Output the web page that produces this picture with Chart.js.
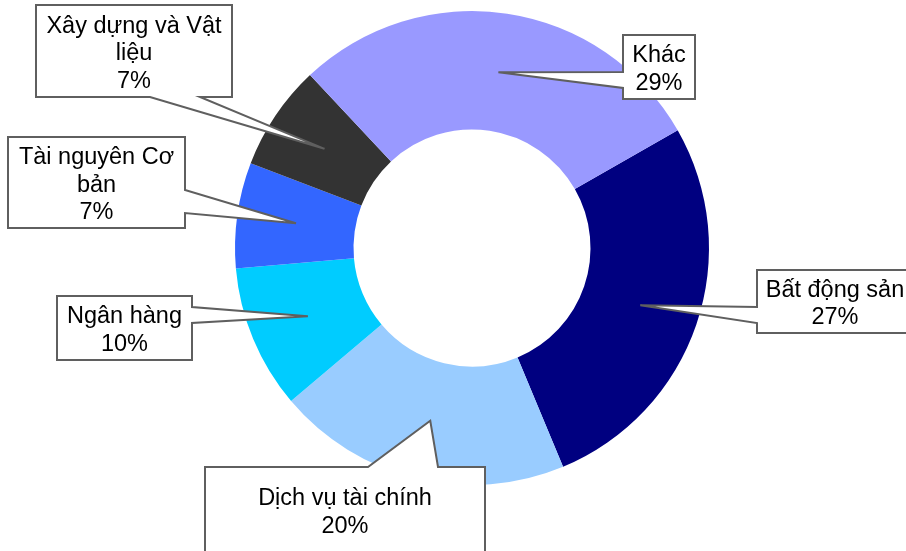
<!DOCTYPE html>
<html>
<head>
<meta charset="utf-8">
<script src="https://cdn.jsdelivr.net/npm/chart.js@4.4.0/dist/chart.umd.min.js"></script>
<style>
    body { margin: 0; background: #fff; }
    #wrap { width: 906px; height: 551px; position: relative; }
</style>
</head>
<body>
<div id="wrap"><canvas id="sectorChart"></canvas></div>
<script>
// ========== Data ==========
const sectorLabels = ['Bất động sản', 'Dịch vụ tài chính', 'Ngân hàng', 'Tài nguyên Cơ bản', 'Xây dựng và Vật liệu', 'Khác'];
const labelLines = [['Bất động sản'], ['Dịch vụ tài chính'], ['Ngân hàng'], ['Tài nguyên Cơ', 'bản'], ['Xây dựng và Vật', 'liệu'], ['Khác']];
const sectorValues = [27.0, 20.1, 9.8, 7.2, 7.2, 28.7];
const sectorColors = ['#000080', '#99CCFF', '#00CCFF', '#3366FF', '#333333', '#9999FF'];

// callout boxes (layout only), pointer tip comes from the arc itself
const calloutBoxes = [
    { x: 757, y: 270, w: 156, h: 63, side: 'left', base: [307, 323] },
    { x: 205, y: 467, w: 280, h: 86, side: 'top', base: [368, 438] },
    { x: 57, y: 296, w: 135, h: 64, side: 'right', base: [307, 323] },
    { x: 8, y: 137, w: 177, h: 91, side: 'right', base: [190, 213] },
    { x: 36, y: 5, w: 196, h: 92, side: 'bottom', base: [150, 200] },
    { x: 623, y: 35, w: 72, h: 64, side: 'left', base: [72, 88] }
];

function calloutPath(ctx, b, tip) {
    const x1 = b.x, y1 = b.y, x2 = b.x + b.w, y2 = b.y + b.h;
    const p1 = b.base[0], p2 = b.base[1];
    ctx.beginPath();
    ctx.moveTo(x1, y1);
    if (b.side === 'top') { ctx.lineTo(p1, y1); ctx.lineTo(tip.x, tip.y); ctx.lineTo(p2, y1); }
    ctx.lineTo(x2, y1);
    if (b.side === 'right') { ctx.lineTo(x2, p1); ctx.lineTo(tip.x, tip.y); ctx.lineTo(x2, p2); }
    ctx.lineTo(x2, y2);
    if (b.side === 'bottom') { ctx.lineTo(p2, y2); ctx.lineTo(tip.x, tip.y); ctx.lineTo(p1, y2); }
    ctx.lineTo(x1, y2);
    if (b.side === 'left') { ctx.lineTo(x1, p2); ctx.lineTo(tip.x, tip.y); ctx.lineTo(x1, p1); }
    ctx.closePath();
}

const calloutPlugin = {
    id: 'callouts',
    afterDatasetsDraw(chart) {
        const ctx = chart.ctx;
        const data = chart.data.datasets[0].data;
        const total = data.reduce((a, b) => a + b, 0);
        ctx.save();
        chart.getDatasetMeta(0).data.forEach((arc, i) => {
            const b = calloutBoxes[i];
            const tip = arc.tooltipPosition();
            calloutPath(ctx, b, tip);
            ctx.fillStyle = '#fff';
            ctx.fill();
            ctx.lineWidth = 2;
            ctx.lineJoin = 'miter';
            ctx.strokeStyle = '#5f5f5f';
            ctx.stroke();

            const lines = labelLines[i].concat([Math.round(data[i] / total * 100) + '%']);
            ctx.fillStyle = '#000';
            ctx.font = '23.5px "Liberation Sans", Arial, sans-serif';
            ctx.textAlign = 'center';
            ctx.textBaseline = 'alphabetic';
            const cx = b.x + b.w / 2, cy = b.y + b.h / 2;
            const lh = 27.5;
            lines.forEach((t, k) => {
                ctx.fillText(t, cx, cy + (k - (lines.length - 1) / 2) * lh + 9);
            });
        });
        ctx.restore();
    }
};

new Chart(document.getElementById('sectorChart'), {
    type: 'doughnut',
    data: {
        labels: sectorLabels,
        datasets: [{
            data: sectorValues,
            backgroundColor: sectorColors,
            borderWidth: 0
        }]
    },
    options: {
        responsive: true,
        maintainAspectRatio: false,
        animation: false,
        rotation: 60.2,
        cutout: '50%',
        layout: { padding: { left: 235, top: 11, right: 197, bottom: 66 } },
        plugins: {
            legend: { display: false },
            tooltip: { enabled: false }
        }
    },
    plugins: [calloutPlugin]
});
</script>
</body>
</html>
